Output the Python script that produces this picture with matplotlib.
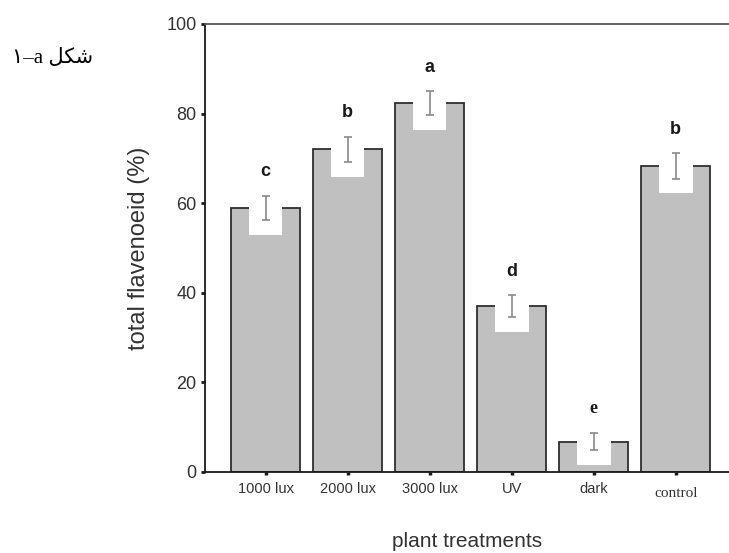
import matplotlib
matplotlib.use("Agg")
import matplotlib.pyplot as plt
import matplotlib.transforms as mtransforms
from matplotlib.patches import Rectangle

# data
treatments = ["1000 lux", "2000 lux", "3000 lux", "UV", "dark", "control"]
flavonoid = [59.0, 72.0, 82.3, 37.0, 6.8, 68.3]
flavonoid_err = [2.7, 2.8, 2.7, 2.5, 2.0, 2.8]
groups = ["c", "b", "a", "d", "e", "b"]
yticks = [0, 20, 40, 60, 80, 100]
caption_word = "شکل"
caption_tail = "\u0661\u2013a"


def shape_word(word):
    # matplotlib has no arabic shaping: pick contextual forms and reverse
    forms = {  # final, initial, medial
        "ش": ("\uFEB6", "\uFEB7", "\uFEB8"),
        "ک": ("\uFB8F", "\uFB90", "\uFB91"),
        "ل": ("\uFEDE", "\uFEDF", "\uFEE0"),
    }
    out = []
    for i, ch in enumerate(word):
        if i == 0:
            out.append(forms[ch][1])
        elif i == len(word) - 1:
            out.append(forms[ch][0])
        else:
            out.append(forms[ch][2])
    return "".join(reversed(out))


plt.rcParams["font.family"] = ["Liberation Sans", "DejaVu Sans"]

fig = plt.figure(figsize=(7.29, 5.53), dpi=100)
ax = fig.add_axes([205 / 729, 81 / 553, 524 / 729, 448 / 553])

x = list(range(len(treatments)))
ax.bar(x, flavonoid, width=0.84, color="#c0c0c0", edgecolor="#2e2e2e",
       linewidth=1.3, zorder=2)

# white notch behind each error bar
for xi, m, e in zip(x, flavonoid, flavonoid_err):
    lo = m - e - 3.3
    ax.add_patch(Rectangle((xi - 0.205, lo), 0.41, m + 1 - lo,
                           facecolor="white", edgecolor="none", zorder=3))

ax.errorbar(x, flavonoid, yerr=flavonoid_err, fmt="none", ecolor="#8a8a8a",
            elinewidth=1.2, capsize=2.6, capthick=1.2, zorder=4)

for xi, m, e, g in zip(x, flavonoid, flavonoid_err, groups):
    fam = ["Liberation Serif"] if g == "e" else ["Liberation Sans"]
    ax.annotate(g, (xi, m + e), xytext=(0, 14), textcoords="offset points",
                ha="center", va="baseline", fontsize=13, fontweight="bold",
                family=fam, color="#1a1a1a")

ax.set_xlim(-0.74, 5.65)
ax.set_ylim(0, 100)
ax.set_yticks(yticks)
ax.set_xticks(x)
ax.set_xticklabels(treatments)

ax.spines["right"].set_visible(False)
for side in ["left", "bottom", "top"]:
    ax.spines[side].set_linewidth(1.3)
ax.spines["left"].set_color("#1a1a1a")
ax.spines["bottom"].set_color("#1a1a1a")
ax.spines["top"].set_color("#555555")

ax.tick_params(axis="y", direction="out", length=3, width=2, pad=3,
               labelsize=13, colors="#1a1a1a", labelcolor="#333333")
ax.tick_params(axis="x", direction="out", length=2.5, width=2.5, pad=5,
               labelsize=10.5, colors="#1a1a1a", labelcolor="#333333")

# only the "control" label is set in a serif face, a little lower
for tick, name in zip(ax.xaxis.get_major_ticks(), treatments):
    lab = tick.label1
    if name == "control":
        lab.set_family(["Liberation Serif"])
        lab.set_fontsize(11)
        lab.set_transform(lab.get_transform() +
                          mtransforms.ScaledTranslation(0, -0.05, fig.dpi_scale_trans))
    else:
        lab.set_family(["Liberation Sans"])

ax.set_ylabel("total flavenoeid (%)", fontsize=17, color="#333333")
ax.yaxis.set_label_coords(-0.105, 0.50)
ax.set_xlabel("plant treatments", fontsize=15, color="#333333")
ax.xaxis.set_label_coords(0.5, -0.135)

fig.text(93 / 729, 1 - 58 / 553, caption_tail + " " + shape_word(caption_word),
         ha="right", va="center", fontsize=15,
         family=["Liberation Serif", "DejaVu Sans"], color="black")

fig.savefig("out.png", dpi=100)
